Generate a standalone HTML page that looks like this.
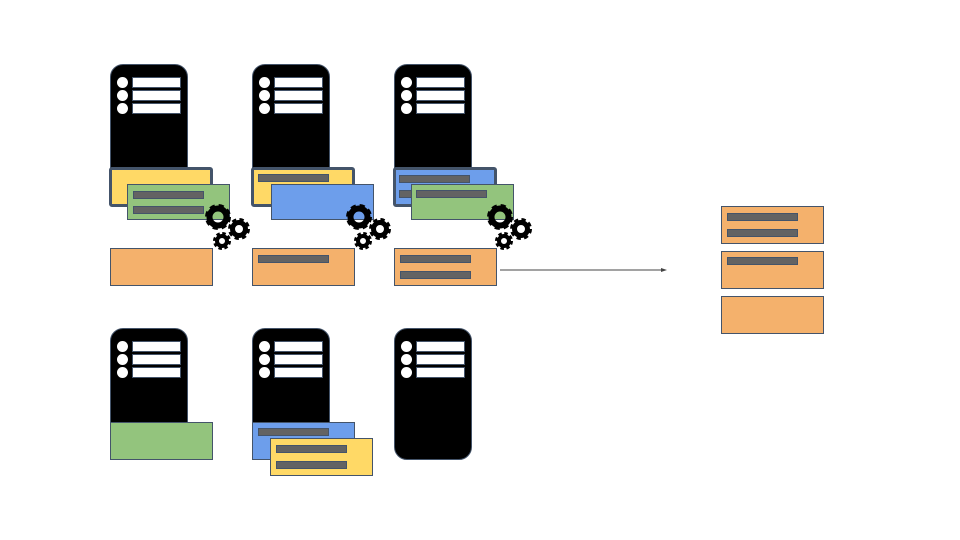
<!DOCTYPE html>
<html><head><style>
body{margin:0;width:960px;height:540px;background:#fff;position:relative;overflow:hidden;font-family:"Liberation Sans",sans-serif}
div{position:absolute;box-sizing:border-box}
.srv{background:#000;border:1px solid #44546a;border-radius:13px 13px 0 0;width:78px}
.srv i{position:absolute;left:6px;width:11px;height:11px;border-radius:50%;background:#fff}
.srv b{position:absolute;left:21px;width:47px;height:9px;background:#fff;border:1px solid #44546a}
.bx{border:1px solid #44546a;width:103px;height:38px}
.thick{border:3px solid #44546a;border-radius:3px;width:104px;height:40px}
.bar{background:#636363;border:1px solid #44546a;width:71px;height:8px}
.o{background:#f4b16c}.g{background:#93c47d}.y{background:#ffd966}.bl{background:#6d9eeb}
svg{position:absolute}
</style></head><body>

<div class="srv" style="left:110px;top:64px;height:110px"><i style="top:12px"></i><i style="top:25px"></i><i style="top:38px"></i><b style="top:12px"></b><b style="top:25px"></b><b style="top:38px"></b></div>
<div class="srv" style="left:252px;top:64px;height:110px"><i style="top:12px"></i><i style="top:25px"></i><i style="top:38px"></i><b style="top:12px"></b><b style="top:25px"></b><b style="top:38px"></b></div>
<div class="srv" style="left:394px;top:64px;height:110px"><i style="top:12px"></i><i style="top:25px"></i><i style="top:38px"></i><b style="top:12px"></b><b style="top:25px"></b><b style="top:38px"></b></div>
<div class="srv" style="left:110px;top:328px;height:100px"><i style="top:12px"></i><i style="top:25px"></i><i style="top:38px"></i><b style="top:12px"></b><b style="top:25px"></b><b style="top:38px"></b></div>
<div class="srv" style="left:252px;top:328px;height:100px"><i style="top:12px"></i><i style="top:25px"></i><i style="top:38px"></i><b style="top:12px"></b><b style="top:25px"></b><b style="top:38px"></b></div>
<div class="srv" style="left:394px;top:328px;height:132px;border-radius:13px"><i style="top:12px"></i><i style="top:25px"></i><i style="top:38px"></i><b style="top:12px"></b><b style="top:25px"></b><b style="top:38px"></b></div>

<div class="thick y" style="left:109px;top:167px"></div>
<div class="bx g" style="left:127px;top:184px;height:36px"></div>
<div class="bar" style="left:133px;top:191px"></div>
<div class="bar" style="left:133px;top:206px"></div>
<div class="bx o" style="left:110px;top:248px"></div>

<div class="thick y" style="left:251px;top:167px"></div>
<div class="bar" style="left:258px;top:174px"></div>
<div class="bx bl" style="left:271px;top:184px;height:36px"></div>
<div class="bx o" style="left:252px;top:248px"></div>
<div class="bar" style="left:258px;top:255px"></div>

<div class="thick bl" style="left:393px;top:167px"></div>
<div class="bar" style="left:399px;top:175px"></div>
<div class="bar" style="left:399px;top:190px"></div>
<div class="bx g" style="left:411px;top:184px;height:36px"></div>
<div class="bar" style="left:416px;top:190px"></div>
<div class="bx o" style="left:394px;top:248px"></div>
<div class="bar" style="left:400px;top:255px"></div>
<div class="bar" style="left:400px;top:271px"></div>

<svg width="960" height="540" style="left:0;top:0">
<defs>
<g id="gears">
<circle cx="218" cy="217" r="10" fill="none" stroke="#000" stroke-width="6" stroke-dasharray="4.5 3.4"/>
<circle cx="218" cy="217" r="8.5" fill="none" stroke="#000" stroke-width="6"/>
<circle cx="239" cy="229" r="8.5" fill="none" stroke="#000" stroke-width="5" stroke-dasharray="3.8 2.9"/>
<circle cx="239" cy="229" r="6.5" fill="none" stroke="#000" stroke-width="5"/>
<circle cx="222" cy="241" r="7" fill="none" stroke="#000" stroke-width="4" stroke-dasharray="3.2 2.3"/>
<circle cx="222" cy="241" r="5" fill="none" stroke="#000" stroke-width="4"/>
</g>
</defs>
<use href="#gears"/>
<use href="#gears" x="141"/>
<use href="#gears" x="282"/>
<line x1="500" y1="270" x2="662" y2="270" stroke="#444" stroke-width="1"/>
<polygon points="667,270 661,268 661,272" fill="#444"/>
</svg>

<div class="bx o" style="left:721px;top:206px"></div>
<div class="bar" style="left:727px;top:213px"></div>
<div class="bar" style="left:727px;top:229px"></div>
<div class="bx o" style="left:721px;top:251px"></div>
<div class="bar" style="left:727px;top:257px"></div>
<div class="bx o" style="left:721px;top:296px"></div>

<div class="bx g" style="left:110px;top:422px"></div>
<div class="bx bl" style="left:252px;top:422px"></div>
<div class="bar" style="left:258px;top:428px"></div>
<div class="bx y" style="left:270px;top:438px"></div>
<div class="bar" style="left:276px;top:445px"></div>
<div class="bar" style="left:276px;top:461px"></div>
</body></html>
